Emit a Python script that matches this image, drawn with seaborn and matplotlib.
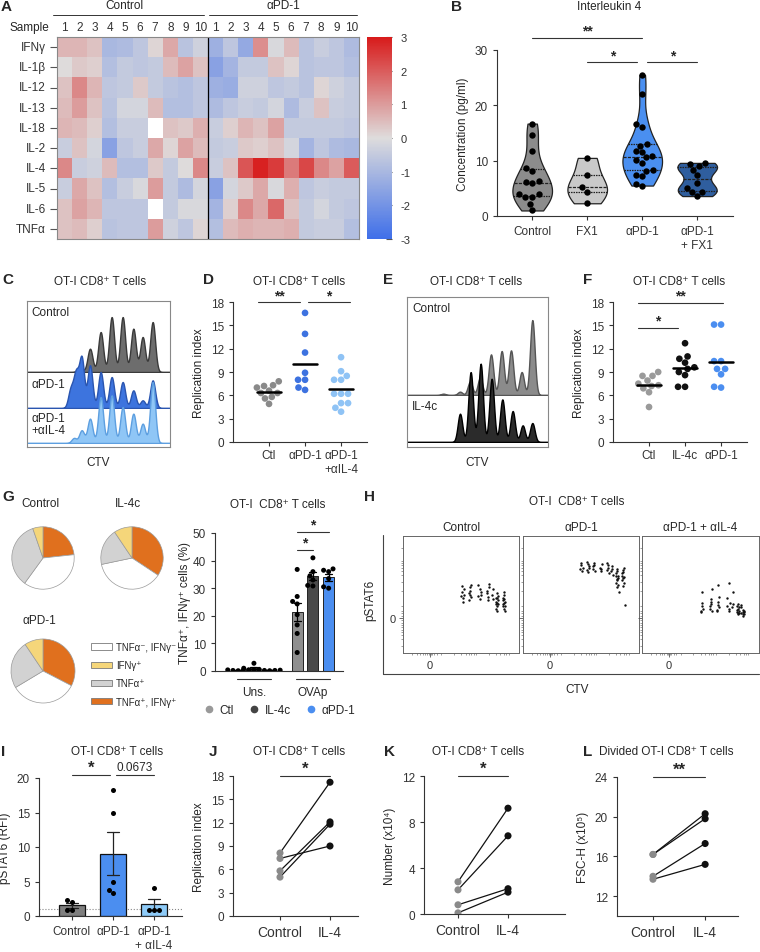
import warnings
import numpy as np
import pandas as pd
import matplotlib
matplotlib.use("Agg")
import matplotlib.pyplot as plt
import seaborn as sns
from matplotlib.colors import LinearSegmentedColormap
from matplotlib.patches import Patch
from matplotlib.lines import Line2D
import matplotlib.transforms as mtransforms

warnings.filterwarnings("ignore")

# ---------------- data ----------------
# A: cytokine heatmap (z-scores)
cytokines = ['IFNγ', 'IL-1β', 'IL-12', 'IL-13', 'IL-18', 'IL-2', 'IL-4', 'IL-5', 'IL-6', 'TNFα']
samples = [str(i) for i in range(1, 11)] * 2
nan = np.nan
heat_control = [
    [0.6, 0.6, 0.4, -1.0, -0.9, -0.6, 0.1, 0.8, -0.7, -0.3],
    [0.0, 0.3, 0.2, -0.8, -0.5, -0.6, -0.5, 0.5, 0.9, 0.4],
    [0.4, 1.3, 0.6, -0.6, -0.5, 0.3, -0.5, -0.7, -0.8, -0.6],
    [0.5, 1.0, 0.4, -0.7, -0.2, -0.2, 0.5, -0.8, -0.8, -0.6],
    [0.6, 0.5, 0.2, -0.8, -0.4, -0.4, nan, 0.4, 0.3, 0.7],
    [-0.4, 0.4, -0.2, -1.6, -0.6, -0.4, 0.8, 0.1, 0.9, 0.5],
    [1.3, -0.4, -0.3, 0.5, -0.8, -0.8, 0.3, -0.5, 0.0, 1.3],
    [-0.4, 0.8, 0.4, -0.8, -0.4, -0.1, 1.0, -0.5, -0.9, -0.2],
    [0.4, 0.9, 0.6, -0.6, -0.6, -0.6, nan, -0.5, -0.1, -0.1],
    [0.4, 0.5, 0.2, -0.7, -0.6, -0.6, 1.0, -0.3, -0.6, 0.1],
]
heat_apd1 = [
    [-1.2, -0.6, -1.4, 1.2, -0.1, 0.5, -0.7, -0.4, -0.6, -0.9],
    [-1.6, -1.1, -0.5, -0.5, 0.4, 0.1, -0.7, -0.6, -0.6, -0.8],
    [-1.2, -1.3, -0.3, -0.3, -0.6, -0.5, -0.7, 0.1, -0.3, -0.5],
    [-0.9, -0.6, -0.4, -0.5, -0.2, -0.9, -0.4, 0.4, -0.4, -0.5],
    [-0.4, 0.2, 0.6, 0.4, 0.9, -0.5, -0.5, -0.5, -0.5, -0.6],
    [-0.5, -0.4, 0.3, 0.2, 0.4, -0.2, -1.1, -0.6, -0.9, -1.0],
    [-0.4, 0.4, 2.1, 2.9, 2.5, 1.5, 2.3, 1.3, 0.9, 2.0],
    [-1.6, -0.2, 0.3, 0.8, -0.1, 0.7, -0.6, -0.4, -0.5, -0.5],
    [-1.1, 0.2, 1.3, 0.8, 1.8, 0.4, -0.5, -0.2, -0.5, -0.6],
    [-0.8, 0.5, 0.7, 0.6, 0.6, 0.7, -0.5, -0.4, -0.4, -0.8],
]

# B: IL-4 concentration (pg/ml)
b_groups = ['Control', 'FX1', 'αPD-1', 'αPD-1\n+ FX1']
b_control = [16.7, 14.6, 11.7, 8.7, 8.1, 6.4, 6.0, 6.1, 3.9, 3.5, 3.5, 3.9, 2.1, 1.0]
b_fx1 = [10.5, 7.5, 5.2, 4.4, 2.3]
b_apd1 = [25.5, 22.0, 16.7, 16.1, 13.0, 12.7, 11.7, 11.6, 10.8, 10.6, 10.1, 9.6, 8.3, 8.2, 7.4, 7.3, 5.8, 5.5]
b_apd1_fx1 = [9.6, 9.4, 9.0, 8.4, 7.5, 6.0, 5.1, 4.4, 4.4, 3.6]

# C: CTV histograms (division peak position, peak height)
c_labels = ['Control', 'αPD-1', 'αPD-1\n+αIL-4']
c_pos_ctrl = [240, 270, 302, 335, 368, 400, 428, 458]
c_h_ctrl = [15, 70, 120, 165, 165, 130, 105, 150]
c_pos_apd1 = [212, 228, 245, 270, 302, 335, 368, 400, 428, 458]
c_h_apd1 = [55, 100, 148, 128, 108, 93, 78, 53, 23, 83]
c_pos_ail4 = [222, 245, 270, 302, 335, 368, 400, 428, 458]
c_h_ail4 = [15, 38, 73, 138, 143, 108, 88, 58, 183]

# D: replication index
d_groups = ['Ctl', 'αPD-1', 'αPD-1\n+αIL-4']
d_ctl = [7.8, 7.3, 7.2, 7.0, 6.6, 6.3, 6.3, 5.8, 5.6, 4.9]
d_apd1 = [16.6, 13.9, 11.5, 8.9, 8.0, 8.0, 7.0, 6.7]
d_apd1_ail4 = [10.9, 9.1, 8.5, 8.0, 8.0, 6.2, 6.2, 6.2, 5.0, 5.0, 4.4, 3.9]

# E: CTV histograms
e_labels = ['Control', 'IL-4c']
e_pos_ctrl = [190, 240, 270, 300, 333, 365, 393, 425, 457]
e_h_ctrl = [4, 10, 40, 52, 122, 132, 134, 69, 225]
e_pos_il4c = [240, 272, 302, 335, 367, 398, 428, 457]
e_h_il4c = [85, 210, 235, 190, 128, 93, 50, 57]

# F: replication index
f_groups = ['Ctl', 'IL-4c', 'αPD-1']
f_ctl = [9.0, 8.5, 8.5, 7.9, 7.5, 7.3, 7.2, 6.9, 6.4, 4.5]
f_il4c = [12.7, 11.0, 10.7, 10.2, 9.6, 9.4, 9.0, 8.6, 7.1, 7.1]
f_apd1 = [15.1, 15.1, 10.4, 10.4, 9.4, 9.4, 8.7, 7.1, 7.0]

# G: cytokine producing fractions (%)  [TNF+IFN+, TNF-IFN-, TNF+, IFN+]
pie_labels = ['TNFα⁺, IFNγ⁺', 'TNFα⁻, IFNγ⁻', 'TNFα⁺', 'IFNγ⁺']
pie_control = [23.3, 36.7, 34.7, 5.3]
pie_il4c = [34.3, 37.4, 18.9, 9.4]
pie_apd1 = [32.6, 33.8, 24.2, 9.4]

g_stims = ['Uns.', 'OVAp']
g_hues = ['Ctl', 'IL-4c', 'αPD-1']
g_uns_ctl = [0.3, 0.2, 0.4, 0.1, 0.3]
g_uns_il4c = [2.8, 1.0, 0.6, 0.4, 0.3]
g_uns_apd1 = [0.2, 0.3, 0.1, 0.2, 0.3]
g_ova_ctl = [36.8, 27.0, 25.2, 24.3, 20.4, 16.7, 13.6, 6.7]
g_ova_il4c = [41.0, 36.0, 34.5, 33.0, 31.0, 30.8]
g_ova_apd1 = [37.0, 36.5, 36.0, 33.5, 30.5, 30.0]

# H: pSTAT6 vs CTV events (arbitrary display units)
h_titles = ['Control', 'αPD-1', 'αPD-1 + αIL-4']
h_control_pts = [
    (51, 52), (52, 47), (53, 55), (50, 49), (52, 44), (53, 50), (51, 57),
    (57, 51), (58, 56), (59, 48), (58, 53), (57, 45), (59, 58), (58, 50),
    (65, 49), (66, 55), (67, 52), (66, 46), (65, 58), (67, 50),
    (72, 53), (73, 48), (74, 56), (73, 45), (72, 51), (74, 59),
    (77, 50), (78, 55), (78, 46),
    (80, 44), (81, 40), (81, 47), (82, 42), (80, 38), (81, 51), (82, 45), (80, 42),
    (81, 36), (82, 49), (81, 43), (80, 47),
    (86, 42), (87, 38), (87, 46), (88, 44), (86, 40), (87, 50), (88, 36), (86, 47),
    (87, 43), (88, 40), (87, 52), (86, 45),
]
h_apd1_pts = [
    (49, 72), (50, 75), (51, 70), (50, 77), (52, 73),
    (55, 71), (56, 76), (57, 73), (56, 69), (55, 78), (57, 74),
    (60, 72), (61, 75), (62, 70), (61, 77), (60, 74),
    (66, 73), (67, 70), (68, 76), (67, 72),
    (72, 71), (73, 75), (74, 68), (73, 73), (72, 77),
    (76, 70), (77, 74), (78, 67), (77, 72),
    (80, 66), (81, 62), (81, 70), (82, 64), (80, 60), (81, 72), (82, 58), (80, 68),
    (81, 56), (82, 66), (81, 63), (83, 52),
    (85, 68), (86, 64), (86, 71), (87, 60), (85, 66), (86, 57), (87, 73), (85, 62),
    (86, 69), (87, 65), (88, 41),
]
h_ail4_pts = [
    (50, 36), (51, 40), (52, 38), (51, 43), (50, 35), (51, 52),
    (58, 38), (59, 42), (60, 36), (59, 46), (58, 40), (60, 55), (59, 44),
    (64, 37), (65, 41), (66, 39), (65, 44), (64, 36), (66, 48), (65, 58),
    (73, 40), (74, 36), (75, 43), (74, 38), (73, 47), (74, 60),
    (77, 39), (78, 42), (78, 52),
    (81, 35), (82, 33), (82, 38), (83, 36), (81, 40), (82, 34), (83, 39), (81, 37),
    (82, 42), (83, 34),
    (85, 34), (86, 32), (86, 37), (87, 35), (85, 39), (86, 33), (87, 36), (85, 41),
    (86, 35), (87, 33),
]

# I: pSTAT6 (RFI)
i_groups = ['Control', 'αPD-1', 'αPD-1\n+ αIL-4']
i_control = [2.0, 2.3, 0.9, 0.9]
i_apd1 = [18.2, 14.9, 4.9, 3.4, 3.8]
i_apd1_ail4 = [4.1, 0.9, 0.9, 0.9]

# J, K, L: paired Control vs IL-4
pair_conds = ['Control', 'IL-4']
j_control = [8.1, 7.4, 5.8, 5.0]
j_il4 = [17.2, 9.0, 12.1, 11.8]
k_control = [2.8, 2.1, 0.8, 0.1]
k_il4 = [9.2, 6.8, 2.2, 1.9]
l_control = [16.2, 16.2, 14.0, 13.7]
l_il4 = [20.3, 19.8, 17.3, 15.2]

# ---------------- style ----------------
FS = 8.5
sns.set_theme(style="ticks")
plt.rcParams['font.family'] = ['Liberation Sans', 'DejaVu Sans']
plt.rcParams['font.size'] = FS
plt.rcParams['axes.unicode_minus'] = False
plt.rcParams['axes.linewidth'] = 0.8
plt.rcParams['axes.edgecolor'] = '#333333'
plt.rcParams['xtick.labelsize'] = FS
plt.rcParams['ytick.labelsize'] = FS
plt.rcParams['axes.labelsize'] = FS
plt.rcParams['xtick.major.width'] = 0.8
plt.rcParams['ytick.major.width'] = 0.8
plt.rcParams['xtick.major.size'] = 3
plt.rcParams['ytick.major.size'] = 3
plt.rcParams['xtick.color'] = '#333333'
plt.rcParams['ytick.color'] = '#333333'

W, H = 760, 953
fig = plt.figure(figsize=(7.6, 9.53), dpi=100)


def px_axes(x0, y0, x1, y1, **kw):
    return fig.add_axes([x0 / W, 1 - y1 / H, (x1 - x0) / W, (y1 - y0) / H], **kw)


def ftext(x, y, s, **kw):
    kw.setdefault('ha', 'center')
    kw.setdefault('va', 'center')
    kw.setdefault('fontsize', FS)
    fig.text(x / W, 1 - y / H, s, **kw)


def fline(x0, x1, y0, y1, **kw):
    fig.add_artist(Line2D([x0 / W, x1 / W], [1 - y0 / H, 1 - y1 / H], **kw))


def letter(x, y, s):
    ftext(x, y, s, ha='left', fontsize=11, fontweight='bold')


def sig_bar(ax, x0, x1, y, label, fs=10, dy=0.0, weight='bold'):
    ax.plot([x0, x1], [y, y], color='#333333', lw=0.8, clip_on=False)
    ax.annotate(label, xy=((x0 + x1) / 2, y), xytext=(0, dy), textcoords='offset points',
                ha='center', va='bottom', fontsize=fs, fontweight=weight, annotation_clip=False)


def long_df(groups, lists, name):
    rows = []
    for g, vals in zip(groups, lists):
        rows += [(g, v) for v in vals]
    return pd.DataFrame(rows, columns=['group', name])


# ---------------- A: heatmap ----------------
heat = pd.DataFrame(np.hstack([np.array(heat_control), np.array(heat_apd1)]), index=cytokines)
cmap = LinearSegmentedColormap.from_list('bgr', ['#3f6fe9', '#dedcdc', '#d81b1b'])
axA = px_axes(57, 38, 359, 240)
caxA = px_axes(367, 38, 392, 240)
sns.heatmap(heat, ax=axA, cbar_ax=caxA, cmap=cmap, vmin=-3, vmax=3,
            xticklabels=samples, yticklabels=cytokines,
            cbar_kws={'ticks': [-3, -2, -1, 0, 1, 2, 3]})
axA.xaxis.tick_top()
axA.tick_params(axis='x', length=0, labelsize=FS, pad=3, rotation=0)
axA.tick_params(axis='y', length=5, color='#555555', labelsize=FS, rotation=0, pad=3)
for sp in axA.spines.values():
    sp.set_visible(True)
    sp.set_color('#888888')
axA.axvline(10, color='black', lw=0.9)
caxA.tick_params(direction='in', length=4, color='#555555', labelsize=FS - 0.5, pad=6)
axA.collections[0].colorbar.outline.set_edgecolor('#777777')
ftext(29, 28, 'Sample')
ftext(124, 6, 'Control')
ftext(283, 6, 'αPD-1')
fline(53, 204, 16, 16, color='#333333', lw=0.7)
fline(209, 357, 16, 16, color='#333333', lw=0.7)
letter(1, 7, 'A')

# ---------------- B: violin ----------------
dfB = long_df(b_groups, [b_control, b_fx1, b_apd1, b_apd1_fx1], 'conc')
axB = px_axes(497, 51, 733, 217)
sns.violinplot(data=dfB, x='group', y='conc', hue='group', legend=False,
               palette=['#8c8c8c', '#c9c9c9', '#4a8ff0', '#2f5e9e'],
               inner='quart', cut=0, density_norm='width', width=0.72, bw_adjust=0.8,
               linewidth=0.9, linecolor='#222222', saturation=1, ax=axB)
sns.swarmplot(data=dfB, x='group', y='conc', color='black', size=4.6, ax=axB)
axB.set_ylim(0, 30)
axB.set_xlim(-0.64, 3.65)
axB.set_yticks([0, 10, 20, 30])
axB.set_xlabel('')
axB.set_ylabel('Concentration (pg/ml)')
sns.despine(ax=axB)
sig_bar(axB, 0, 2, 32.2, '**', fs=10)
sig_bar(axB, 1, 1.91, 27.8, '*', fs=10)
sig_bar(axB, 2.09, 3, 27.8, '*', fs=10)
ftext(609, 7, 'Interleukin 4')
letter(451, 7, 'B')


# ---------------- C / E: CTV histograms ----------------
def ridge_row(box, baseline_px, pos, heights, xlim, fill, edge, sigma):
    x0, y0, x1, _ = box
    ax = px_axes(x0, y0, x1, baseline_px)
    ax.patch.set_alpha(0)
    bw = sigma / np.sqrt(np.cov(pos, aweights=heights))
    scale = 1 / (np.sum(heights) * sigma * np.sqrt(2 * np.pi))
    sns.kdeplot(x=pos, weights=heights, bw_method=bw, cut=60, gridsize=1200,
                fill=True, color=fill, alpha=1, edgecolor=edge, linewidth=1.0, ax=ax)
    ax.set_xlim(*xlim)
    ax.set_ylim(0, (baseline_px - y0) * 3 * scale)
    ax.set_axis_off()
    return ax


boxC = (27, 302, 170, 448)
ridge_row(boxC, 373, c_pos_ctrl, c_h_ctrl, (81, 510), '#6d6d6d', '#3a3a3a', 7.5)
ridge_row(boxC, 409, c_pos_apd1, c_h_apd1, (81, 510), '#3d74de', '#2a55b0', 7.5)
ridge_row(boxC, 444, c_pos_ail4, c_h_ail4, (81, 510), '#8fc6f6', '#5d9fe0', 7.5)
frameC = px_axes(*boxC)
frameC.patch.set_alpha(0)
frameC.set_xticks([])
frameC.set_yticks([])
for sp in frameC.spines.values():
    sp.set_color('#888888')
ftext(31, 313, c_labels[0], ha='left')
ftext(31, 385, c_labels[1], ha='left')
ftext(31, 425, c_labels[2], ha='left', linespacing=1.1)
ftext(98, 463, 'CTV')
ftext(100, 282, 'OT-I CD8⁺ T cells')
letter(2, 280, 'C')

boxE = (407, 298, 548, 448)
ridge_row(boxE, 396, e_pos_ctrl, e_h_ctrl, (81, 504), '#8b8b8b', '#555555', 7)
ridge_row(boxE, 443, e_pos_il4c, e_h_il4c, (81, 504), '#2b2b2b', '#000000', 7)
frameE = px_axes(*boxE)
frameE.patch.set_alpha(0)
frameE.set_xticks([])
frameE.set_yticks([])
for sp in frameE.spines.values():
    sp.set_color('#888888')
ftext(412, 309, e_labels[0], ha='left')
ftext(412, 407, e_labels[1], ha='left')
ftext(477, 463, 'CTV')
ftext(476, 282, 'OT-I CD8⁺ T cells')
letter(383, 280, 'E')


# ---------------- D / F: replication index ----------------
def dot_panel(box, groups, lists, colors, sigs):
    df = long_df(groups, lists, 'ri')
    ax = px_axes(*box)
    sns.swarmplot(data=df, x='group', y='ri', hue='group', palette=colors,
                  legend=False, size=4.8, ax=ax)
    means = df.groupby('group', sort=False)['ri'].mean()
    for i, m in enumerate(means):
        ax.plot([i - 0.33, i + 0.33], [m, m], color='black', lw=1.8, zorder=5)
    ax.set_ylim(0, 18)
    ax.set_xlim(-1.0, 2.72)
    ax.set_yticks(range(0, 19, 3))
    ax.set_xlabel('')
    ax.set_ylabel('Replication index')
    ax.tick_params(axis='x', pad=2)
    sns.despine(ax=ax)
    for x0, x1, y, lab in sigs:
        sig_bar(ax, x0, x1, y, lab, fs=10)
    return ax


dot_panel((233, 303, 367, 443), d_groups, [d_ctl, d_apd1, d_apd1_ail4],
          ['#8a8a8a', '#3d72e0', '#8fc3f5'],
          [(-0.3, 0.87, 18, '**'), (1.08, 2.25, 18, '*')])
ftext(299, 282, 'OT-I CD8⁺ T cells')
letter(203, 280, 'D')

dot_panel((613, 303, 747, 443), f_groups, [f_ctl, f_il4c, f_apd1],
          ['#9a9a9a', '#111111', '#4b8ef0'],
          [(-0.3, 0.8, 14.7, '*'), (-0.3, 2.05, 17.9, '**')])
ftext(679, 282, 'OT-I CD8⁺ T cells')
letter(583, 280, 'F')

# ---------------- G: pies ----------------
pie_colors = ['#e0701e', '#ffffff', '#d2d2d2', '#f5d67a']
for vals, box, title, tpos in [(pie_control, (4, 520, 82, 598), 'Control', (40, 504)),
                               (pie_il4c, (93, 520, 171, 598), 'IL-4c', (128, 504)),
                               (pie_apd1, (3, 632, 83, 712), 'αPD-1', (39, 621))]:
    axp = px_axes(*box)
    axp.pie(vals, colors=pie_colors, startangle=90, counterclock=False,
            wedgeprops={'edgecolor': '#9a9a9a', 'linewidth': 0.5})
    axp.set_aspect('equal')
    ftext(tpos[0], tpos[1], title)
letter(2, 497, 'G')
leg_order = [1, 3, 2, 0]
handles = [Patch(facecolor=pie_colors[i], edgecolor='#7a7a7a', linewidth=0.6) for i in leg_order]
fig.legend(handles, [pie_labels[i] for i in leg_order], loc='upper left',
           bbox_to_anchor=(87 / W, 1 - 639 / H), frameon=False, fontsize=7,
           handlelength=2.2, handleheight=0.6, labelspacing=0.85, handletextpad=0.35,
           borderaxespad=0)

# ---------------- G: bars ----------------
rows = []
for stim, grp, vals in [('Uns.', 'Ctl', g_uns_ctl), ('Uns.', 'IL-4c', g_uns_il4c),
                        ('Uns.', 'αPD-1', g_uns_apd1), ('OVAp', 'Ctl', g_ova_ctl),
                        ('OVAp', 'IL-4c', g_ova_il4c), ('OVAp', 'αPD-1', g_ova_apd1)]:
    rows += [(stim, grp, v) for v in vals]
dfG = pd.DataFrame(rows, columns=['stim', 'grp', 'pct'])
axG = px_axes(215, 534, 343, 672)
sns.barplot(data=dfG, x='stim', y='pct', hue='grp', order=g_stims, hue_order=g_hues,
            palette=['#8f8f8f', '#4a4a4a', '#4b8ef0'], saturation=1, width=0.8, gap=0.3,
            errorbar='se', capsize=0.35, edgecolor='#222222', linewidth=0.7,
            err_kws={'color': 'black', 'linewidth': 0.9}, legend=False, ax=axG)
sns.swarmplot(data=dfG, x='stim', y='pct', hue='grp', order=g_stims, hue_order=g_hues,
              palette=['black', 'black', 'black'], dodge=True, size=3.6, legend=False, ax=axG)
axG.set_ylim(0, 50)
axG.set_xlim(-0.66, 1.51)
axG.set_yticks(range(0, 51, 10))
axG.set_xticks([])
axG.set_xlabel('')
axG.set_ylabel('TNFα⁺, IFNγ⁺ cells (%)', labelpad=1)
sns.despine(ax=axG)
trG = mtransforms.blended_transform_factory(axG.transData, axG.transAxes)
for i, s in enumerate(g_stims):
    axG.plot([i - 0.29, i + 0.29], [-0.058, -0.058], color='#333333', lw=0.8,
             transform=trG, clip_on=False)
    axG.text(i, -0.15, s, transform=trG, ha='center', va='center', fontsize=FS)
sig_bar(axG, 0.73, 1.0, 44, '*', fs=10)
sig_bar(axG, 0.73, 1.27, 50.4, '*', fs=10)
g_leg = [Line2D([], [], marker='o', ls='', color=c, markersize=4.5)
         for c in ['#999999', '#444444', '#4b8ef0']]
axG.legend(g_leg, g_hues, loc='center', bbox_to_anchor=(0.5, -0.28), ncol=3,
           frameon=False, fontsize=FS, handlelength=1.0, handletextpad=0.4, columnspacing=1.2)
ftext(278, 505, 'OT-I  CD8⁺ T cells')

# ---------------- H: pSTAT6 dot plots ----------------
h_boxes = [(403, 537, 519, 654), (523, 537, 639, 654), (642, 537, 759, 654)]
minor_x = [8, 12, 15, 17, 19, 21, 22, 24, 25, 27, 29, 33, 44, 50, 54, 57, 59, 61, 63, 74, 80, 84, 87, 89, 91]
minor_y = [6, 12, 15, 18, 20, 22, 24, 26, 28, 32, 34, 36, 40, 53, 61, 67, 70, 73, 75, 77, 79, 90]
for i, (pts, title, box) in enumerate(zip([h_control_pts, h_apd1_pts, h_ail4_pts], h_titles, h_boxes)):
    axh = px_axes(*box)
    arr = np.array(pts)
    sns.scatterplot(x=arr[:, 0], y=arr[:, 1], s=3, color='#111111', linewidth=0, ax=axh)
    axh.set_xlim(0, 100)
    axh.set_ylim(0, 100)
    axh.set_xticks([23])
    axh.set_xticklabels(['0'])
    axh.set_yticks([30])
    axh.set_yticklabels(['0'] if i == 0 else [])
    axh.set_xticks(minor_x, minor=True)
    axh.set_yticks(minor_y, minor=True)
    axh.tick_params(which='major', length=3, width=0.6, color='#555555', labelsize=FS - 0.5, pad=2)
    axh.tick_params(which='minor', length=1.5, width=0.5, color='#777777')
    for sp in axh.spines.values():
        sp.set_color('#666666')
        sp.set_linewidth(0.7)
    axh.set_title(title, fontsize=FS, pad=4)
fline(383, 383, 536, 675, color='#444444', lw=0.8)
fline(383, 759, 675, 675, color='#444444', lw=0.8)
ftext(370, 600, 'pSTAT6', rotation=90)
ftext(577, 690, 'CTV')
ftext(577, 502, 'OT-I  CD8⁺ T cells')
letter(364, 497, 'H')

# ---------------- I: pSTAT6 bars ----------------
dfI = long_df(i_groups, [i_control, i_apd1, i_apd1_ail4], 'rfi')
axI = px_axes(39, 779, 182, 917)
sns.barplot(data=dfI, x='group', y='rfi', hue='group', legend=False,
            palette=['#7f7f7f', '#4b8ef0', '#8ecbf8'], saturation=1, width=0.65,
            errorbar='se', capsize=0.3, edgecolor='#111111', linewidth=0.9,
            err_kws={'color': '#222222', 'linewidth': 0.9}, ax=axI)
sns.swarmplot(data=dfI, x='group', y='rfi', color='black', size=3.6, ax=axI)
axI.axhline(1, ls=':', color='#888888', lw=0.8, zorder=0)
axI.set_ylim(0, 20)
axI.set_xlim(-0.8, 2.68)
axI.set_yticks(range(0, 21, 5))
axI.set_xlabel('')
axI.set_ylabel('pSTAT6 (RFI)')
sns.despine(ax=axI)
sig_bar(axI, 0, 0.93, 20.5, '*', fs=12)
sig_bar(axI, 1.07, 2, 20.5, '0.0673', fs=FS, dy=1, weight='normal')
ftext(117, 752, 'OT-I CD8⁺ T cells')
letter(1, 752, 'I')


# ---------------- J, K, L: paired ----------------
def pair_panel(box, ctrl, il4, ylim, yticks, ylabel, xlim, sig_y, sig_lab):
    n = len(ctrl)
    df = pd.DataFrame({'cond': [pair_conds[0]] * n + [pair_conds[1]] * n,
                       'val': ctrl + il4, 'pair': list(range(n)) * 2})
    df['x'] = df['cond'].map({c: i for i, c in enumerate(pair_conds)})
    ax = px_axes(*box)
    sns.lineplot(data=df, x='x', y='val', units='pair', estimator=None,
                 color='#111111', lw=0.9, ax=ax)
    sns.scatterplot(data=df, x='x', y='val', hue='cond',
                    palette={pair_conds[0]: '#8a8a8a', pair_conds[1]: '#111111'},
                    s=26, linewidth=0, legend=False, ax=ax, zorder=3)
    ax.set_ylim(*ylim)
    ax.set_xlim(*xlim)
    ax.set_yticks(yticks)
    ax.set_xticks([0, 1])
    ax.set_xticklabels(pair_conds, fontsize=FS + 1.5)
    ax.set_xlabel('')
    ax.set_ylabel(ylabel)
    sns.despine(ax=ax)
    sig_bar(ax, 0, 1, sig_y, sig_lab, fs=12)
    return ax


pair_panel((233, 777, 358, 917), j_control, j_il4, (0, 18), range(0, 19, 3),
           'Replication index', (-0.94, 1.56), 18, '*')
ftext(299, 752, 'OT-I CD8⁺ T cells')
letter(209, 752, 'J')

pair_panel((424, 777, 565, 915), k_control, k_il4, (0, 12), [0, 4, 8, 12],
           'Number (x10⁴)', (-0.68, 2.14), 12, '*')
ftext(478, 752, 'OT-I CD8⁺ T cells')
letter(384, 752, 'K')

pair_panel((617, 778, 738, 917), l_control, l_il4, (10, 24), [12, 16, 20, 24],
           'FSC-H (x10⁵)', (-0.69, 1.63), 24, '**')
ftext(666, 752, 'Divided OT-I CD8⁺ T cells')
letter(583, 752, 'L')

fig.savefig('out.png', dpi=100)
